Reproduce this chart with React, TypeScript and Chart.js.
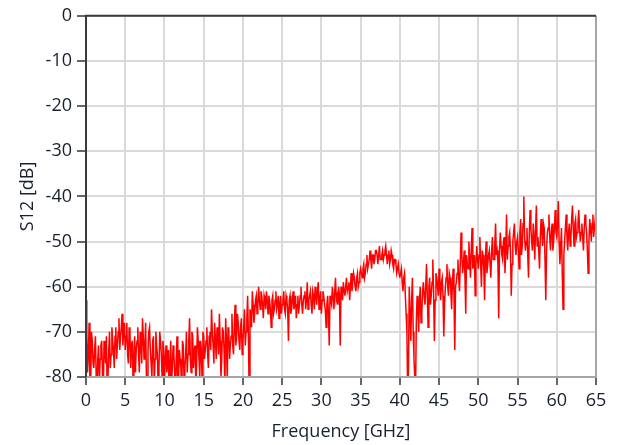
import React, { useEffect, useRef } from "react";
import { Chart, registerables } from "chart.js";

Chart.register(...registerables);

// Trace sampled every 0.1 GHz; each 5 GHz chunk has values at x.0/x.2/... ("even")
// and at x.1/x.3/... ("odd"), both read off the reference trace.
const chunkStartsGHz = [0, 5, 10, 15, 20, 25, 30, 35, 40, 45, 50, 55, 60];

const s12Even = [
  [-63, -79, -68, -82, -72, -78, -71, -83, -73, -76, -72, -84, -74, -71, -80, -70, -75, -72, -78, -69, -73, -67, -71, -66, -70],
  [-74, -68, -77, -70, -73, -81, -71, -74, -69, -79, -72, -67, -76, -68, -82, -70, -74, -80, -71, -76, -73, -83, -70, -75, -72],
  [-81, -73, -77, -84, -72, -78, -75, -83, -71, -80, -76, -85, -73, -78, -70, -75, -67, -79, -71, -74, -82, -69, -76, -72, -81],
  [-71, -74, -69, -78, -70, -65, -73, -68, -76, -71, -66, -80, -69, -74, -67, -81, -70, -73, -66, -75, -64, -71, -68, -74, -67],
  [-72, -65, -70, -62, -84, -66, -61, -68, -63, -66, -60, -65, -62, -67, -63, -61, -66, -63, -69, -62, -65, -61, -64, -67, -62],
  [-64, -61, -66, -63, -72, -62, -65, -61, -64, -67, -62, -64, -60, -66, -62, -65, -59, -63, -61, -66, -62, -60, -64, -59, -63],
  [-66, -61, -64, -69, -62, -73, -63, -60, -65, -58, -62, -60, -73, -61, -59, -62, -58, -60, -63, -57, -59, -58, -61, -57, -59],
  [-56, -58, -55, -57, -53, -55, -52, -56, -53, -54, -52, -55, -51, -54, -52, -53, -51, -55, -52, -54, -53, -56, -54, -57, -55],
  [-58, -56, -61, -57, -66, -84, -60, -72, -58, -76, -83, -62, -70, -60, -66, -59, -64, -55, -69, -58, -62, -54, -72, -57, -60],
  [-56, -63, -58, -71, -60, -55, -62, -58, -65, -56, -74, -59, -54, -61, -48, -57, -52, -66, -55, -50, -58, -47, -55, -62, -51],
  [-56, -49, -60, -53, -63, -50, -55, -52, -58, -49, -54, -46, -52, -67, -48, -53, -50, -57, -44, -51, -48, -62, -50, -46, -53],
  [-49, -56, -45, -51, -40, -52, -47, -58, -43, -50, -46, -54, -42, -49, -56, -45, -51, -47, -63, -48, -44, -52, -46, -50, -43],
  [-49, -41, -55, -47, -65, -50, -44, -52, -46, -49, -42, -51, -45, -48, -43, -50, -46, -52, -44, -48, -57, -45, -50, -44, -47, -46],
];

const s12Odd = [
  [-70, -75, -81, -70, -77, -74, -80, -76, -82, -73, -79, -72, -77, -83, -74, -78, -69, -74, -71, -76, -70, -74, -69, -73, -68],
  [-71, -75, -69, -78, -72, -76, -79, -72, -75, -70, -77, -71, -73, -80, -74, -69, -77, -72, -82, -70, -75, -78, -72, -80, -74],
  [-76, -79, -74, -77, -82, -73, -79, -76, -84, -74, -78, -72, -81, -75, -79, -72, -76, -70, -78, -73, -77, -72, -80, -74, -70],
  [-76, -72, -75, -71, -74, -70, -77, -72, -69, -75, -72, -76, -70, -82, -72, -69, -76, -71, -73, -69, -73, -66, -72, -69, -75],
  [-69, -73, -67, -71, -65, -69, -64, -66, -62, -64, -63, -61, -64, -62, -65, -63, -62, -65, -63, -66, -63, -65, -62, -64, -66],
  [-63, -65, -62, -65, -63, -66, -63, -65, -62, -64, -66, -62, -64, -63, -61, -63, -65, -62, -64, -61, -65, -62, -61, -65, -61],
  [-63, -62, -65, -64, -66, -62, -64, -62, -61, -63, -64, -62, -60, -63, -61, -60, -61, -59, -60, -61, -57, -60, -58, -60, -57],
  [-57, -56, -58, -55, -56, -54, -54, -53, -55, -52, -53, -53, -54, -53, -54, -52, -53, -53, -55, -52, -55, -54, -55, -56, -57],
  [-57, -59, -58, -62, -70, -78, -66, -63, -70, -80, -68, -65, -63, -68, -61, -62, -60, -62, -60, -64, -59, -61, -63, -58, -62],
  [-60, -59, -62, -64, -58, -60, -57, -61, -59, -62, -60, -57, -58, -55, -53, -55, -58, -53, -56, -54, -52, -56, -53, -55, -54],
  [-53, -55, -52, -56, -54, -57, -53, -55, -52, -54, -51, -53, -55, -52, -51, -54, -49, -52, -54, -49, -52, -55, -48, -51, -50],
  [-52, -48, -53, -46, -49, -50, -53, -48, -47, -52, -49, -47, -51, -52, -49, -48, -46, -54, -52, -47, -49, -48, -52, -47, -48],
  [-46, -50, -51, -57, -53, -47, -49, -48, -51, -45, -47, -46, -49, -46, -47, -48, -49, -47, -46, -52, -50, -47, -46, -49, -45],
];

const xTitle = "Frequency [GHz]";
const yTitle = "S12 [dB]";
const xMin = 0, xMax = 65, xStep = 5;
const yMin = -80, yMax = 0, yStep = 10;

function buildPoints() {
  const pts: { x: number; y: number }[] = [];
  chunkStartsGHz.forEach((start, k) => {
    s12Even[k].forEach((v, i) => {
      const f = start + i * 0.2;
      pts.push({ x: Math.round(f * 10) / 10, y: v });
      const o = s12Odd[k][i];
      if (o !== undefined) pts.push({ x: Math.round((f + 0.1) * 10) / 10, y: o });
    });
  });
  return pts;
}

const FONT = "'Open Sans', 'Noto Sans', sans-serif";
const TEXT = "#18202e";

const framePlugin = {
  id: "frame",
  afterDraw(chart: any) {
    const { ctx, chartArea: a } = chart;
    ctx.save();
    ctx.lineWidth = 2;
    ctx.strokeStyle = "#a6a6a6";
    ctx.beginPath();
    ctx.moveTo(a.right, a.top);
    ctx.lineTo(a.right, a.bottom);
    ctx.lineTo(a.left, a.bottom);
    ctx.stroke();
    ctx.strokeStyle = "#3a3a3a";
    ctx.beginPath();
    ctx.moveTo(a.left, a.bottom);
    ctx.lineTo(a.left, a.top);
    ctx.lineTo(a.right, a.top);
    ctx.stroke();
    ctx.restore();
  },
};

export default function App() {
  const ref = useRef<HTMLCanvasElement | null>(null);
  useEffect(() => {
    if (!ref.current) return;
    const chart = new Chart(ref.current, {
      type: "line",
      data: {
        datasets: [
          {
            data: buildPoints(),
            borderColor: "#ff0000",
            borderWidth: 1.5,
            pointRadius: 0,
            tension: 0,
          },
        ],
      },
      options: {
        animation: false,
        responsive: true,
        maintainAspectRatio: false,
        layout: { padding: { top: 15, right: 23, left: 0, bottom: 0 } },
        plugins: { legend: { display: false }, tooltip: { enabled: false } },
        scales: {
          x: {
            type: "linear",
            min: xMin,
            max: xMax,
            afterFit: (s: any) => { s.height = 68; },
            ticks: { stepSize: xStep, color: TEXT, font: { family: FONT, size: 18 }, padding: 5, maxRotation: 0 },
            grid: { color: "#dadada", lineWidth: 2, tickColor: "#333", tickWidth: 1.5, tickLength: 8 },
            border: { display: false },
            title: { display: true, text: xTitle, color: TEXT, font: { family: FONT, size: 18 }, padding: { top: 0, bottom: 2 } },
          },
          y: {
            min: yMin,
            max: yMax,
            afterFit: (s: any) => { s.width = 86; },
            ticks: { stepSize: yStep, color: TEXT, font: { family: FONT, size: 18 }, padding: 5 },
            grid: { color: "#dadada", lineWidth: 2, tickColor: "#333", tickWidth: 1.5, tickLength: 9 },
            border: { display: false },
            title: { display: true, text: yTitle, color: TEXT, font: { family: FONT, size: 18 }, padding: { top: 17, bottom: 0 } },
          },
        },
      },
      plugins: [framePlugin],
    });
    return () => chart.destroy();
  }, []);
  return (
    <div style={{ position: "absolute", left: 0, top: 0, width: 619, height: 445, background: "#fff" }}>
      <canvas ref={ref} />
    </div>
  );
}
